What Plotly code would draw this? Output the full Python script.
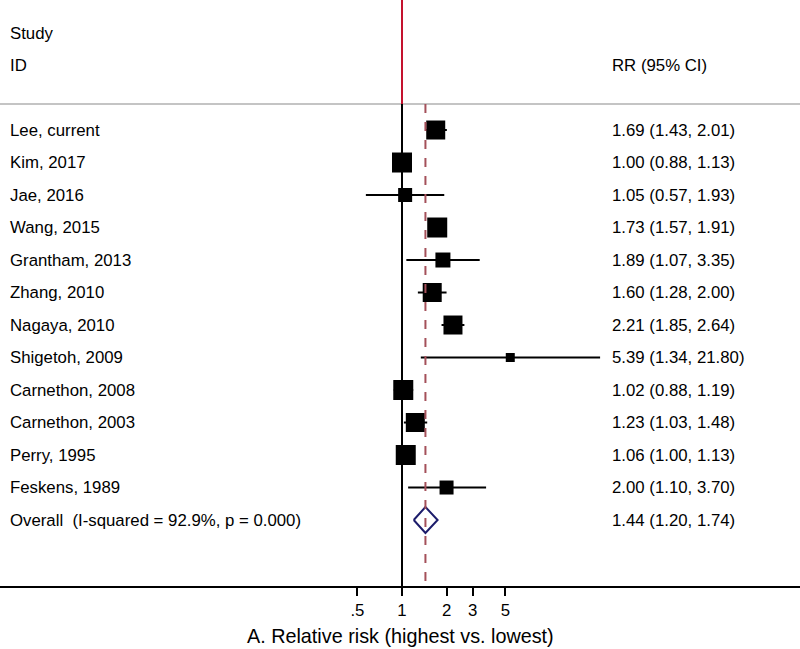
import plotly.graph_objects as go

studies = ["Lee, current", "Kim, 2017", "Jae, 2016", "Wang, 2015", "Grantham, 2013",
           "Zhang, 2010", "Nagaya, 2010", "Shigetoh, 2009", "Carnethon, 2008",
           "Carnethon, 2003", "Perry, 1995", "Feskens, 1989"]
rr = [1.69, 1.00, 1.05, 1.73, 1.89, 1.60, 2.21, 5.39, 1.02, 1.23, 1.06, 2.00]
lo = [1.43, 0.88, 0.57, 1.57, 1.07, 1.28, 1.85, 1.34, 0.88, 1.03, 1.00, 1.10]
hi = [2.01, 1.13, 1.93, 1.91, 3.35, 2.00, 2.64, 21.80, 1.19, 1.48, 1.13, 3.70]
box_px = [19, 20, 14, 20, 15, 19, 19, 9, 20, 19, 20, 14]

overall_label = "Overall  (I-squared = 92.9%, p = 0.000)"
overall_rr, overall_lo, overall_hi = 1.44, 1.20, 1.74

tick_vals = [0.5, 1, 2, 3, 5]
tick_text = [".5", "1", "2", "3", "5"]
x_title = "A. Relative risk (highest vs. lowest)"

FONT = "Liberation Sans, Arial, sans-serif"
FS = 16.8

n = len(studies)
ys = [-i for i in range(n)]
y_over = -n

fig = go.Figure()

# CI lines
cx, cy = [], []
for l, h, y in zip(lo, hi, ys):
    cx += [l, h, None]
    cy += [y, y, None]
fig.add_trace(go.Scatter(x=cx, y=cy, mode="lines", line=dict(color="black", width=2),
                         hoverinfo="skip", showlegend=False))

# Boxes
fig.add_trace(go.Scatter(x=rr, y=ys, mode="markers",
                         marker=dict(symbol="square", size=box_px, color="black",
                                     opacity=1, line=dict(width=0)),
                         showlegend=False))

# Diamond
dh = 0.4
fig.add_trace(go.Scatter(x=[overall_lo, overall_rr, overall_hi, overall_rr, overall_lo],
                         y=[y_over, y_over + dh, y_over, y_over - dh, y_over],
                         mode="lines", line=dict(color="#1c1c6b", width=2),
                         showlegend=False, hoverinfo="skip"))

y_top, y_bot = 4.0, -14.03
y_hline = 0.8

shapes = [
    dict(type="line", xref="paper", yref="y", x0=0, x1=1, y0=y_hline, y1=y_hline,
         line=dict(color="#c4c4c4", width=2)),
    dict(type="line", xref="x", yref="y", x0=1, x1=1, y0=y_top, y1=y_hline,
         line=dict(color="#c4122e", width=2)),
    dict(type="line", xref="x", yref="y", x0=1, x1=1, y0=y_hline, y1=y_bot,
         line=dict(color="black", width=2)),
    dict(type="line", xref="x", yref="y", x0=overall_rr, x1=overall_rr, y0=y_hline, y1=y_bot,
         line=dict(color="#a4505a", width=2, dash="dash")),
]

annotations = []
def txt(x, y, s, size=FS):
    annotations.append(dict(xref="paper", yref="y", x=x, y=y, text=s, showarrow=False,
                            xanchor="left", yanchor="middle",
                            font=dict(family=FONT, size=size, color="black")))

LX = 8 / 800
RX = 610 / 800
txt(LX, 2.98, "Study")
txt(LX, 1.97, "ID")
txt(RX, 1.97, "RR (95% CI)")
for s, y, r, l, h in zip(studies, ys, rr, lo, hi):
    txt(LX, y, s)
    txt(RX, y, f"{r:.2f} ({l:.2f}, {h:.2f})")
txt(LX, y_over, overall_label)
txt(RX, y_over, f"{overall_rr:.2f} ({overall_lo:.2f}, {overall_hi:.2f})")

annotations.append(dict(xref="paper", yref="paper", x=0.5, y=0, yshift=-50,
                        text=x_title, showarrow=False, xanchor="center", yanchor="middle",
                        font=dict(family=FONT, size=19.8, color="black")))

x0 = -402 / 148
x1 = x0 + 800 / 148

fig.update_layout(
    width=800, height=649,
    margin=dict(l=0, r=0, t=0, b=63),
    paper_bgcolor="white", plot_bgcolor="white",
    shapes=shapes, annotations=annotations,
    xaxis=dict(type="log", range=[x0, x1], tickvals=tick_vals, ticktext=tick_text,
               ticks="outside", ticklen=8, tickwidth=1.5, tickcolor="black",
               showline=True, linecolor="black", linewidth=1.5, showgrid=False,
               zeroline=False, tickfont=dict(family=FONT, size=FS, color="black")),
    yaxis=dict(range=[y_bot, y_top], showgrid=False, zeroline=False,
               showticklabels=False, showline=False),
    showlegend=False,
)

fig.write_html("out.html", config={"displayModeBar": False},
               post_script="document.body.style.margin='0';document.body.style.overflow='hidden';")
